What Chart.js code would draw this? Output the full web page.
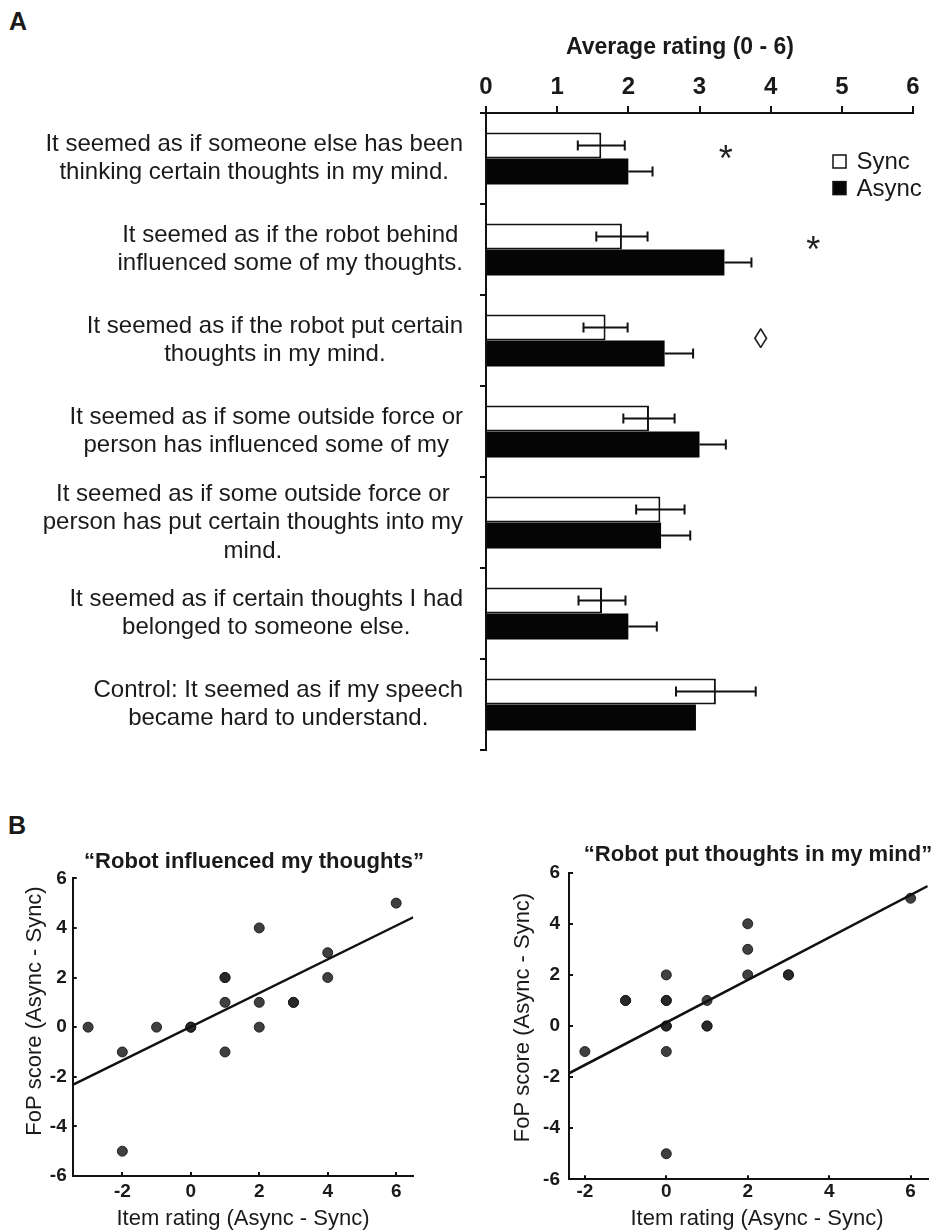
<!DOCTYPE html>
<html>
<head>
<meta charset="utf-8">
<script src="https://cdn.jsdelivr.net/npm/chart.js@4.4.1/dist/chart.umd.min.js"></script>
<style>
  body { margin: 0; background: #fff; }
  #page { position: relative; width: 938px; height: 1232px; font-family: 'Liberation Sans', Arial, sans-serif; color: #1a1a1a; }
  #page canvas { position: absolute; }
  .panel { position: absolute; font-weight: bold; font-size: 25px; line-height: 25px; }
</style>
</head>
<body>
<div id="page">
  <div class="panel" style="left:9px;top:9px">A</div>
  <canvas id="ratings" width="938" height="790" style="left:0;top:0"></canvas>
  <div class="panel" style="left:8px;top:813px">B</div>
  <canvas id="influence" width="470" height="412" style="left:0;top:820px"></canvas>
  <canvas id="put" width="468" height="412" style="left:470px;top:820px"></canvas>
</div>
<script>
// ---- panel A: questionnaire items ----
const itemLabels = [
    ['It seemed as if someone else has been', 'thinking certain thoughts in my mind.'],
    ['It seemed as if the robot behind', 'influenced some of my thoughts.'],
    ['It seemed as if the robot put certain', 'thoughts in my mind.'],
    ['It seemed as if some outside force or', 'person has influenced some of my'],
    ['It seemed as if some outside force or', 'person has put certain thoughts into my', 'mind.'],
    ['It seemed as if certain thoughts I had', 'belonged to someone else.'],
    ['Control: It seemed as if my speech', 'became hard to understand.']
];
const seriesNames = ['Sync', 'Async'];
const syncMean = [1.62, 1.91, 1.68, 2.29, 2.45, 1.63, 3.23];
const syncErr = [0.33, 0.36, 0.31, 0.36, 0.34, 0.33, 0.56];
const asyncMean = [2.0, 3.35, 2.51, 3.0, 2.46, 2.0, 2.95];
const asyncErr = [0.34, 0.38, 0.40, 0.37, 0.41, 0.40, null];
const sigMarks = ['*', '*', '\u25CA', '', '', '', ''];
const sigX = [3.37, 4.6, 3.86, null, null, null, null];
const ratingTicks = [0, 1, 2, 3, 4, 5, 6];

// ---- panel B: difference scores ----
const influenceX = [-3, -2, -2, -1, 0, 0, 1, 1, 1, 1, 2, 2, 2, 3, 3, 4, 4, 6];
const influenceY = [0, -1, -5, 0, 0, 0, 2, 2, 1, -1, 4, 1, 0, 1, 1, 3, 2, 5];
const influenceFitX = [-3.45, 6.5];
const influenceFitY = [-2.33, 4.43];

const putX = [-2, -1, -1, 0, 0, 0, 0, 0, 0, 0, 1, 1, 1, 2, 2, 2, 3, 3, 6];
const putY = [-1, 1, 1, 2, 1, 1, 0, 0, -1, -5, 1, 0, 0, 4, 3, 2, 2, 2, 5];
const putFitX = [-2.39, 6.42];
const putFitY = [-1.85, 5.48];

const FONT = "'Liberation Sans', Arial, sans-serif";
const INK = '#1a1a1a';
Chart.defaults.font.family = FONT;
Chart.defaults.color = INK;
Chart.defaults.animation = false;

// text placed relative to the chart area (titles that sit off-centre in the figure)
const captionPlugin = {
    id: 'captions',
    afterDraw(chart, args, opts) {
        const {ctx, chartArea} = chart;
        (opts.items || []).forEach(c => {
            ctx.save();
            ctx.font = c.font;
            ctx.fillStyle = INK;
            ctx.textAlign = 'center';
            ctx.textBaseline = 'middle';
            ctx.translate(chartArea.left + c.dx, chartArea.top + c.dy);
            if (c.rotate) ctx.rotate(-Math.PI / 2);
            ctx.fillText(c.text, 0, 0);
            ctx.restore();
        });
    }
};

const itemLabelPlugin = {
    id: 'itemLabels',
    afterDraw(chart) {
        const {ctx, chartArea, scales: {y}} = chart;
        ctx.save();
        ctx.font = '24px ' + FONT;
        ctx.fillStyle = INK;
        ctx.textAlign = 'center';
        ctx.textBaseline = 'middle';
        const right = chartArea.left - 23;
        const lh = 28.5;
        itemLabels.forEach((lines, i) => {
            const widest = Math.max(...lines.map(l => ctx.measureText(l).width));
            const cx = right - widest / 2;
            const cy = y.getPixelForValue(i);
            lines.forEach((line, k) => {
                ctx.fillText(line, cx, cy + (k - (lines.length - 1) / 2) * lh);
            });
        });
        ctx.restore();
    }
};

// sync: two-sided bars; async: only the part right of the black bar shows
const errorBarPlugin = {
    id: 'errorBars',
    afterDatasetsDraw(chart) {
        const {ctx, scales: {x}} = chart;
        ctx.save();
        ctx.strokeStyle = '#111';
        ctx.lineWidth = 2;
        [syncErr, asyncErr].forEach((errs, d) => {
            const means = chart.data.datasets[d].data;
            chart.getDatasetMeta(d).data.forEach((bar, i) => {
                if (errs[i] == null) return;
                const x0 = x.getPixelForValue(d === 0 ? means[i] - errs[i] : means[i]);
                const x1 = x.getPixelForValue(means[i] + errs[i]);
                ctx.beginPath();
                ctx.moveTo(x0, bar.y); ctx.lineTo(x1, bar.y);
                if (d === 0) { ctx.moveTo(x0, bar.y - 5); ctx.lineTo(x0, bar.y + 5); }
                ctx.moveTo(x1, bar.y - 5); ctx.lineTo(x1, bar.y + 5);
                ctx.stroke();
            });
        });
        ctx.restore();
    }
};

const sigPlugin = {
    id: 'sigMarks',
    afterDraw(chart) {
        const {ctx, scales: {x, y}} = chart;
        ctx.save();
        ctx.fillStyle = '#222';
        ctx.textAlign = 'center';
        ctx.textBaseline = 'middle';
        sigMarks.forEach((m, i) => {
            if (!m) return;
            const px = x.getPixelForValue(sigX[i]);
            const py = y.getPixelForValue(i);
            if (m === '*') {
                ctx.font = '36px ' + FONT;
                ctx.fillText(m, px, py + 3);
            } else {
                ctx.font = '28px ' + FONT;
                ctx.fillText(m, px, py - 0.5);
            }
        });
        ctx.restore();
    }
};

const cornerLegendPlugin = {
    id: 'cornerLegend',
    afterDraw(chart) {
        const {ctx, chartArea} = chart;
        const fills = ['#fff', '#050505'];
        ctx.save();
        ctx.font = '24px ' + FONT;
        ctx.textAlign = 'left';
        ctx.textBaseline = 'middle';
        seriesNames.forEach((name, k) => {
            const cy = chartArea.top + 48.5 + k * 26.6;
            const bx = chartArea.right - 80;
            ctx.fillStyle = fills[k];
            ctx.fillRect(bx, cy - 6.5, 13, 13);
            ctx.strokeStyle = '#111';
            ctx.lineWidth = 1.5;
            ctx.strokeRect(bx, cy - 6.5, 13, 13);
            ctx.fillStyle = INK;
            ctx.fillText(name, chartArea.right - 56.5, cy + 1);
        });
        ctx.restore();
    }
};

new Chart(document.getElementById('ratings'), {
    type: 'bar',
    data: {
        labels: itemLabels.map(l => l.join(' ')),
        datasets: [{
            label: seriesNames[0],
            data: syncMean,
            backgroundColor: '#fff',
            borderColor: '#111',
            borderWidth: 2,
            categoryPercentage: 0.57,
            barPercentage: 1.0
        }, {
            label: seriesNames[1],
            data: asyncMean,
            backgroundColor: '#050505',
            borderWidth: 0,
            categoryPercentage: 0.57,
            barPercentage: 1.0
        }]
    },
    options: {
        indexAxis: 'y',
        responsive: false,
        layout: {padding: {left: 0, right: 25, top: 0, bottom: 40}},
        plugins: {
            legend: {display: false},
            tooltip: {enabled: false},
            captions: {items: [
                {text: 'Average rating (0 - 6)', font: 'bold 23px ' + FONT, dx: 194, dy: -65}
            ]}
        },
        scales: {
            x: {
                position: 'top',
                min: 0,
                max: 6,
                afterBuildTicks: s => { s.ticks = ratingTicks.map(v => ({value: v})); },
                ticks: {font: {size: 24, weight: 'bold'}, color: INK, padding: 4},
                grid: {drawOnChartArea: false, tickLength: 7, color: '#111', lineWidth: 2},
                border: {color: '#111', width: 2},
                afterFit: s => { s.height = 113; }
            },
            y: {
                ticks: {display: false},
                grid: {drawOnChartArea: false, offset: true, tickLength: 6, color: '#111', lineWidth: 2},
                border: {color: '#111', width: 2},
                afterFit: s => { s.width = 486; }
            }
        }
    },
    plugins: [errorBarPlugin, itemLabelPlugin, sigPlugin, cornerLegendPlugin, captionPlugin]
});

function scatterPanel(id, xs, ys, fitX, fitY, title, g) {
    const pts = xs.map((x, i) => ({x: x, y: ys[i]}));
    const fit = fitX.map((x, i) => ({x: x, y: fitY[i]}));
    return new Chart(document.getElementById(id), {
        type: 'scatter',
        data: {
            datasets: [{
                type: 'line',
                data: fit,
                borderColor: '#111',
                borderWidth: 2.5,
                pointRadius: 0,
                fill: false
            }, {
                data: pts,
                pointRadius: 5,
                backgroundColor: 'rgba(38,38,38,0.88)',
                borderColor: 'rgba(20,20,20,0.88)',
                borderWidth: 1
            }]
        },
        options: {
            responsive: false,
            layout: {padding: {left: 0, right: g.padRight, top: g.padTop, bottom: 0}},
            plugins: {
                legend: {display: false},
                tooltip: {enabled: false},
                captions: {items: [
                    {text: title, font: 'bold 22px ' + FONT, dx: g.titleDx, dy: g.titleDy},
                    {text: 'FoP score (Async - Sync)', font: '22px ' + FONT, dx: g.yTitleDx, dy: g.yTitleDy, rotate: true},
                    {text: 'Item rating (Async - Sync)', font: '22px ' + FONT, dx: g.xTitleDx, dy: g.xTitleDy}
                ]}
            },
            scales: {
                x: {
                    type: 'linear',
                    min: g.xMin,
                    max: g.xMax,
                    ticks: {stepSize: 2, includeBounds: false, font: {size: 19, weight: 'bold'}, color: INK, padding: g.xPad},
                    grid: {drawOnChartArea: false, tickLength: -4, color: '#111', lineWidth: 2},
                    border: {color: '#111', width: 2},
                    afterFit: s => { s.height = g.xHeight; }
                },
                y: {
                    type: 'linear',
                    min: -6,
                    max: 6,
                    ticks: {stepSize: 2, font: {size: 19, weight: 'bold'}, color: INK, padding: g.yPad},
                    grid: {drawOnChartArea: false, tickLength: -4, color: '#111', lineWidth: 2},
                    border: {color: '#111', width: 2},
                    afterFit: s => { s.width = g.yWidth; }
                }
            }
        },
        plugins: [captionPlugin]
    });
}

scatterPanel('influence', influenceX, influenceY, influenceFitX, influenceFitY,
    '\u201CRobot influenced my thoughts\u201D',
    {padRight: 56.7, padTop: 58.3, xMin: -3.45, xMax: 6.5, xHeight: 56, yWidth: 72.7, xPad: 8, yPad: 10,
     titleDx: 181.3, titleDy: -16.5, yTitleDx: -37.7, yTitleDy: 132.7, xTitleDx: 170.3, xTitleDy: 341});

scatterPanel('put', putX, putY, putFitX, putFitY,
    '\u201CRobot put thoughts in my mind\u201D',
    {padRight: 10.3, padTop: 52.7, xMin: -2.39, xMax: 6.42, xHeight: 52.7, yWidth: 99, xPad: 5, yPad: 13,
     titleDx: 189, titleDy: -18, yTitleDx: -46, yTitleDy: 144.8, xTitleDx: 188, xTitleDy: 346.3});
</script>
</body>
</html>
